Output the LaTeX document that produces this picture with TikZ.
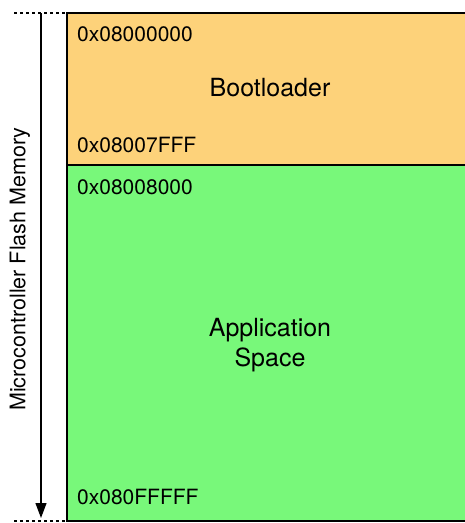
\documentclass[tikz,border=0pt]{standalone}
\usepackage{fontspec}
\setmainfont{TeX Gyre Heros}
\usetikzlibrary{arrows.meta}
\definecolor{bootcol}{RGB}{253,210,122}
\definecolor{appcol}{RGB}{120,248,122}
\tikzset{
  addr/.style={anchor=west,inner sep=0pt,font=\fontsize{21}{24}\selectfont},
  region/.style={align=center,inner sep=0pt,font=\fontsize{25}{30}\selectfont},
  edge/.style={dash pattern=on 3pt off 3pt,line width=1.3pt}
}
\begin{document}
\begin{tikzpicture}[x=1pt,y=-1pt]
\pgfmathsetmacro{\kx}{67}
\pgfmathsetmacro{\ktop}{13}
\pgfmathsetmacro{\kmid}{165}
\pgfmathsetmacro{\kbot}{521}
\useasboundingbox(0,0)rectangle(465,523);
% memory regions
\draw[line width=1.5pt,fill=bootcol](\kx,\ktop)rectangle(470,\kmid);
\draw[line width=1.5pt,fill=appcol](\kx,\kmid)rectangle(470,\kbot);
\draw[edge](14,\ktop)--(\kx,\ktop);
\draw[edge](14,\kbot)--(\kx,\kbot);
% extent arrow
\coordinate(top)at(41,\ktop);
\coordinate(bot)at(41,\kbot-3);
\draw[line width=1.2pt,-{Triangle[length=15pt,width=11pt]}](top)--(bot);
\node[rotate=90,inner sep=0pt,font=\fontsize{21.5}{24}\selectfont](lbl)at(20,269){Microcontroller Flash Memory};
% addresses
\node[addr](a0)at(77,34){0x08000000};
\node[addr](a1)at(77,145){0x08007FFF};
\node[addr](a2)at(77,187){0x08008000};
\node[addr](a3)at(77,497){0x080FFFFF};
\node[region](boot)at(270,88){Bootloader};
\node[region](app)at(270,345){Application\\Space};
\end{tikzpicture}
\end{document}
